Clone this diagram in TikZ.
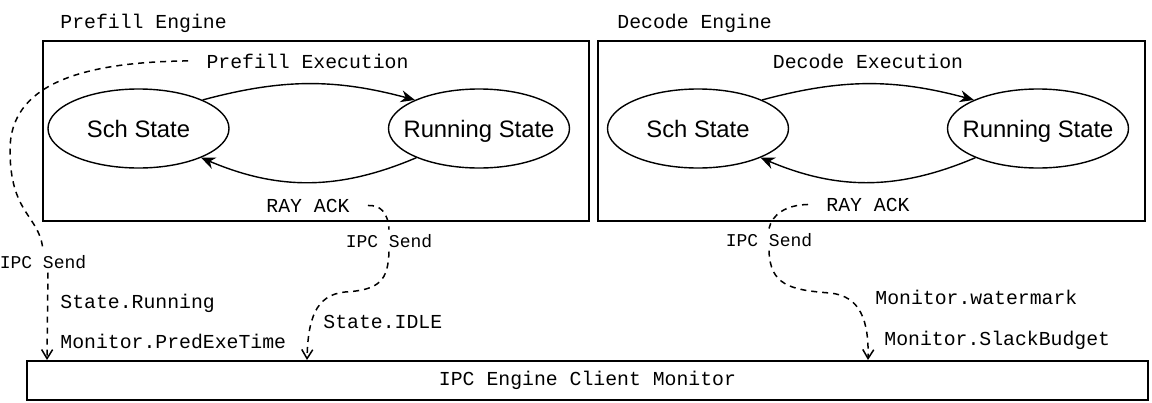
\documentclass[tikz,border=0pt]{standalone}
\usepackage{fontspec}
\setsansfont{Liberation Sans}
\setmonofont{Liberation Mono}
\usepackage{tikz}
\usetikzlibrary{positioning, arrows.meta, shapes.geometric}

\begin{document}
\begin{tikzpicture}
[->/.style={line width=0.7pt,arrows={-Stealth[length=7pt,width=6pt]}},
ipc/.style={line width=0.75pt, dash pattern=on 3pt off 2.5pt},
-->/.style={ipc, arrows={-Straight Barb[length=4.5pt,width=5.5pt]}},
   engG/.style={shape=rectangle, draw, line width=1pt, minimum height=90pt},
   stateG/.style={shape=ellipse, draw, line width=0.7pt, minimum width=90.5pt,
     minimum height=39.5pt, inner xsep=-8pt, inner ysep=0pt,
     text height=10pt, text depth=1.5pt,
     font=\sffamily\fontsize{11.9}{14}\selectfont},
   txt/.style={inner sep=0pt, font=\ttfamily\fontsize{9.9}{12}\selectfont},
   tag/.style={txt, inner xsep=9pt, inner ysep=2pt},
   sendtag/.style={tag, inner xsep=0pt, font=\ttfamily\fontsize{9}{11}\selectfont},
   x=0.5pt, y=-0.5pt]
\useasboundingbox (0,0) rectangle (1152,402);
% engines
\node[engG, minimum width=273pt] (PE) at (316,131) {};
\node[engG, minimum width=273.5pt] (DE) at (871.5,131) {};
\node[engG, minimum width=560.5pt, minimum height=19.5pt, txt] (Mon) at (587.5,380.5) {IPC Engine Client Monitor};
\node[txt, anchor=base west] (PEn) at (60,28) {Prefill Engine};
\node[txt, anchor=base west] (DEn) at (617,28) {Decode Engine};
\node[tag, anchor=base] (PEx) at (307.5,68) {Prefill Execution};
\node[tag, anchor=base] (DEx) at (868,68) {Decode Execution};
% states
\node[stateG] (SchP) at (138.5,128.5) {Sch State};
\node[stateG] (RunP) at (479,128.5) {Running State};
\node[stateG] (SchD) at (698,128.5) {Sch State};
\node[stateG] (RunD) at (1038,128.5) {Running State};
\draw [->] (SchP.24) to [bend left=15] (RunP.156);
\draw [->] (RunP.205) to [bend left=23] (SchP.-25);
\draw [->] (SchD.24) to [bend left=15] (RunD.156);
\draw [->] (RunD.205) to [bend left=23] (SchD.-25);
\node[tag, anchor=base] (RAYp) at (308,212) {RAY ACK};
\node[tag, anchor=base] (RAYd) at (868,211) {RAY ACK};
% ipc labels
\node[sendtag, anchor=base] (IPCa) at (43,268) {IPC Send};
\node[sendtag, anchor=base] (IPCb) at (389,247) {IPC Send};
\node[sendtag, anchor=base] (IPCc) at (769,246) {IPC Send};
\node[txt, anchor=base west] (SRun) at (60,308) {State.Running};
\node[txt, anchor=base west] (MPred) at (60,348) {Monitor.PredExeTime};
\node[txt, anchor=base west] (SIdle) at (323,328) {State.IDLE};
\node[txt, anchor=base west] (MWat) at (875,304) {Monitor.watermark};
\node[txt, anchor=base west] (MSlack) at (884,345) {Monitor.SlackBudget};
% ipc connectors
\draw [ipc] (PEx.west) .. controls (80,62) and (10,85) .. (10,150)
  .. controls (10,215) and (40,215) .. (IPCa.north);
\draw [-->] ([xshift=2.5pt]IPCa.south) -- ([xshift=10.5pt]Mon.north west);
\draw [ipc] (RAYp.east) .. controls (380,205) and (388,212) .. (IPCb.north);
\draw [-->] (IPCb.south) .. controls (388,280) and (380,290) .. (345,292)
  .. controls (315,295) and (308,320) .. ([xshift=140.5pt]Mon.north west);
\draw [ipc] (RAYd.west) .. controls (785,205) and (772,215) .. (IPCc.north);
\draw [-->] (IPCc.south) .. controls (770,285) and (790,290) .. (830,293)
  .. controls (860,296) and (869,320) .. ([xshift=421pt]Mon.north west);
\end{tikzpicture}
\end{document}
